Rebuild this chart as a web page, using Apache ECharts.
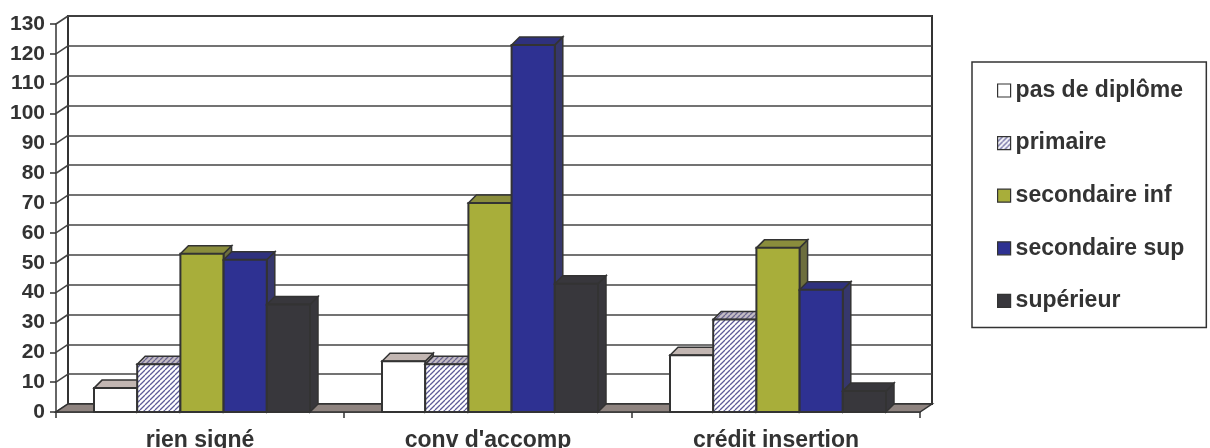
<!DOCTYPE html>
<html>
<head>
<meta charset="utf-8">
<script src="https://cdn.jsdelivr.net/npm/echarts@6/dist/echarts.min.js"></script>
<style>
  html, body { margin: 0; padding: 0; background: #ffffff; }
  #chart { width: 1210px; height: 448px; }
</style>
</head>
<body>
<div id="chart"></div>
<script>
// Categories and values per diploma level
const categories = ['rien signé', "conv d'accomp", 'crédit insertion'];
const seriesNames = ['pas de diplôme', 'primaire', 'secondaire inf', 'secondaire sup', 'supérieur'];
const pasDeDiplome = [8, 17, 19];
const primaire = [16, 16, 31];
const secondaireInf = [53, 70, 55];
const secondaireSup = [51, 123, 41];
const superieur = [36, 43, 7];
const yTicks = [0, 10, 20, 30, 40, 50, 60, 70, 80, 90, 100, 110, 120, 130];

// Oblique depth offsets for the walls and the columns
const WALL_DX = 12, WALL_DY = -8;
const BAR_DX = 8, BAR_DY = -8;
const EDGE = '#333333';
const FONT = '"Liberation Sans", Arial, sans-serif';

// Diagonal hatch used by "primaire"
function hatch(bg, fg) {
  const s = 5;
  const c = document.createElement('canvas');
  c.width = s; c.height = s;
  const ctx = c.getContext('2d');
  ctx.fillStyle = bg;
  ctx.fillRect(0, 0, s, s);
  ctx.strokeStyle = fg;
  ctx.lineWidth = 1.3;
  ctx.beginPath();
  for (const o of [-s, 0, s]) {
    ctx.moveTo(o, s);
    ctx.lineTo(o + s, 0);
  }
  ctx.stroke();
  return { image: c, repeat: 'repeat' };
}

const faces = [
  { front: '#ffffff', top: '#c2b6b2', side: '#9c918d' },
  { front: hatch('#ffffff', '#5e5c98'), top: hatch('#c4bcc4', '#6a6690'), side: hatch('#b0a8b4', '#5e5c88') },
  { front: '#a8ae3a', top: '#8a8d3c', side: '#6d6e3e' },
  { front: '#2e3192', top: '#2f317e', side: '#36376c' },
  { front: '#38373c', top: '#38373c', side: '#38373c' }
];
const valueSets = [pasDeDiplome, primaire, secondaireInf, secondaireSup, superieur];

function barRenderer(k, f) {
  return function (params, api) {
    const ci = api.value(0);
    const v = api.value(1);
    const base = api.coord([ci, 0]);
    const top = api.coord([ci, v]);
    const band = api.size([1, 0])[0];
    const bw = band * 0.15;
    const x0 = base[0] - 2.5 * bw + k * bw + 2;
    const x1 = x0 + bw;
    const y0 = base[1], y1 = top[1];
    return {
      type: 'group',
      children: [
        { type: 'polygon',
          shape: { points: [[x1, y0], [x1 + BAR_DX, y0 + BAR_DY], [x1 + BAR_DX, y1 + BAR_DY], [x1, y1]] },
          style: { fill: f.side, stroke: EDGE, lineWidth: 1.5 } },
        { type: 'polygon',
          shape: { points: [[x0, y1], [x1, y1], [x1 + BAR_DX, y1 + BAR_DY], [x0 + BAR_DX, y1 + BAR_DY]] },
          style: { fill: f.top, stroke: EDGE, lineWidth: 1.5 } },
        { type: 'rect',
          shape: { x: x0, y: y1, width: bw, height: y0 - y1 },
          style: { fill: f.front, stroke: EDGE, lineWidth: 2 } }
      ]
    };
  };
}

const barSeries = seriesNames.map(function (name, k) {
  return {
    name: name,
    type: 'custom',
    xAxisIndex: 0,
    yAxisIndex: 0,
    z: 10,
    renderItem: barRenderer(k, faces[k]),
    itemStyle: { color: faces[k].front },
    data: valueSets[k].map(function (v, i) { return [i, v]; })
  };
});

// Floor slab under the columns
const floorSeries = {
  type: 'custom', xAxisIndex: 0, yAxisIndex: 0, z: 5, silent: true,
  data: [[0, 0]],
  renderItem: function (params, api) {
    const cs = params.coordSys;
    const y = api.coord([0, 0])[1];
    return {
      type: 'polygon',
      shape: { points: [[cs.x, y], [cs.x + cs.width, y], [cs.x + cs.width + WALL_DX, y + WALL_DY], [cs.x + WALL_DX, y + WALL_DY]] },
      style: { fill: '#8f8480', stroke: EDGE, lineWidth: 1.5 }
    };
  }
};

// Gridline segments on the left side wall
const sideWallSeries = {
  type: 'custom', xAxisIndex: 0, yAxisIndex: 0, z: 4, silent: true,
  data: yTicks.map(function (t) { return [0, t]; }),
  renderItem: function (params, api) {
    const cs = params.coordSys;
    const y = api.coord([0, api.value(1)])[1];
    return {
      type: 'line',
      shape: { x1: cs.x, y1: y, x2: cs.x + WALL_DX, y2: y + WALL_DY },
      style: { stroke: '#444444', lineWidth: 1.6 }
    };
  }
};

const legendFaces = faces.map(function (f) { return f.front; });

const option = {
  animation: false,
  backgroundColor: '#ffffff',
  grid: [
    { left: 56, top: 24, width: 864, height: 388, outerBoundsMode: 'none', containLabel: false },
    { left: 68, top: 16, width: 864, height: 388, outerBoundsMode: 'none', containLabel: false, show: true,
      backgroundColor: '#ffffff', borderColor: EDGE, borderWidth: 2 }
  ],
  xAxis: [
    { type: 'category', gridIndex: 0, data: categories,
      axisLine: { show: true, lineStyle: { color: EDGE, width: 1.5 } },
      axisTick: { show: true, interval: 0, length: 6, lineStyle: { color: EDGE, width: 1.5 } },
      axisLabel: { interval: 0, margin: 17, color: '#333333', fontSize: 23, fontWeight: 'bold', fontFamily: FONT },
      splitLine: { show: false } },
    { type: 'category', gridIndex: 1, data: categories, show: false }
  ],
  yAxis: [
    { type: 'value', gridIndex: 0, min: 0, max: 130, interval: 10,
      axisLine: { show: true, lineStyle: { color: EDGE, width: 1.5 } },
      axisTick: { show: true, length: 6, lineStyle: { color: EDGE, width: 1.5 } },
      axisLabel: { margin: 11, color: '#333333', fontSize: 21, fontWeight: 'bold', fontFamily: FONT },
      splitLine: { show: false } },
    { type: 'value', gridIndex: 1, min: 0, max: 130, interval: 10,
      axisLine: { show: false }, axisTick: { show: false }, axisLabel: { show: false },
      splitLine: { show: true, lineStyle: { color: '#444444', width: 1.6 } } }
  ],
  legend: {
    orient: 'vertical',
    left: 972,
    top: 62,
    padding: [17, 22, 15, 25],
    itemGap: 29.6,
    itemWidth: 13,
    itemHeight: 13,
    itemTextGap: 9,
    borderColor: EDGE,
    borderWidth: 1.5,
    icon: 'rect',
    textStyle: { color: '#333333', fontSize: 23, fontWeight: 'bold', fontFamily: FONT, lineHeight: 22 },
    data: seriesNames.map(function (n, k) {
      return { name: n, itemStyle: { color: legendFaces[k], borderColor: EDGE, borderWidth: 1.2 } };
    })
  },
  series: [sideWallSeries, floorSeries].concat(barSeries)
};

const chart = echarts.init(document.getElementById('chart'), null, { renderer: 'canvas' });
chart.setOption(option);
</script>
</body>
</html>
